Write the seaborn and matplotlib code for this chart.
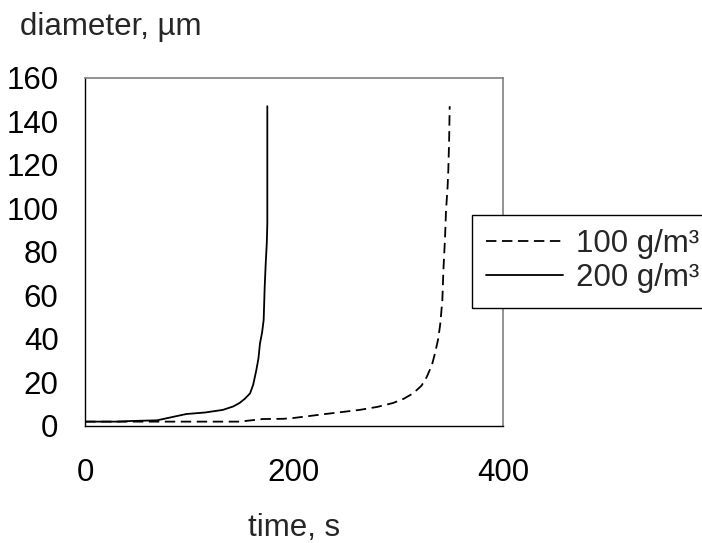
import pandas as pd
import matplotlib
matplotlib.use("Agg")
import matplotlib.pyplot as plt
import seaborn as sns

#data (time in s, diameter in um)
time_100 = [0, 40, 70, 100, 148, 170, 190, 200, 230, 263, 280, 295, 305, 314, 322, 327, 332, 335, 338, 340, 342, 343, 344.5, 345.5, 347, 347.7, 348.5, 349]
diam_100 = [2, 2, 2, 2, 2, 3.2, 3.3, 3.7, 5.5, 7.4, 8.8, 10.6, 12.5, 15, 18.5, 22.5, 28, 33.5, 40, 47, 58, 71.7, 86, 99, 110, 117.6, 132, 147]
time_200 = [0, 30, 45, 69, 97, 115, 132, 142, 148, 153, 158, 161, 164, 166, 167.5, 169.5, 171, 172, 173, 174, 174.5, 174.5]
diam_200 = [2, 2, 2.3, 2.6, 5.5, 6.2, 7.4, 9, 10.6, 12.5, 15, 19, 25.7, 31, 38, 43, 48.7, 64, 75, 84, 93, 147]
labels = ["100 g/m\u00b3", "200 g/m\u00b3"]

df_100 = pd.DataFrame({"time": time_100, "diameter": diam_100})
df_200 = pd.DataFrame({"time": time_200, "diameter": diam_200})

sns.set_style("white")
plt.rcParams["font.family"] = ["Liberation Sans", "DejaVu Sans"]
plt.rcParams["lines.scale_dashes"] = False

fs = 22.5
fig = plt.figure(figsize=(7.02, 5.43), dpi=100)
ax = fig.add_axes([0.121, 0.2155, 0.5955, 0.641])

#dashed 100 g/m3 curve, solid 200 g/m3 curve
sns.lineplot(data=df_100, x="time", y="diameter", ax=ax, color="black", linewidth=1.3,
             sort=False, estimator=None, label=labels[0])
ax.lines[-1].set_dashes((7.5, 4))
sns.lineplot(data=df_200, x="time", y="diameter", ax=ax, color="black", linewidth=1.3,
             sort=False, estimator=None, label=labels[1])

ax.set_xlim(0, 400)
ax.set_ylim(0, 160)
ax.set_xticks([0, 200, 400])
ax.set_yticks(range(0, 161, 20))
ax.tick_params(axis="both", direction="inout", length=13, width=1, color="black",
               labelsize=fs, labelcolor="black")
ax.tick_params(axis="x", pad=16.2)
ax.tick_params(axis="y", pad=12.5)
ax.set_xlabel("")
ax.set_ylabel("")

for side in ["left", "bottom"]:
    ax.spines[side].set_color("black")
    ax.spines[side].set_linewidth(1)
for side in ["top", "right"]:
    ax.spines[side].set_color("#808080")
    ax.spines[side].set_linewidth(1.2)

fig.text(20 / 702, 1 - 35 / 543, "diameter, \u00b5m", fontsize=fs, ha="left", va="baseline")
fig.text(294 / 702, 1 - 536 / 543, "time, s", fontsize=fs, ha="center", va="baseline")

leg = ax.legend(loc="upper left", bbox_to_anchor=(472 / 702, 1 - 215 / 543),
                bbox_transform=fig.transFigure, frameon=True, fancybox=False, shadow=False,
                fontsize=fs, handlelength=2.46, handletextpad=0.42, labelspacing=0.12,
                borderaxespad=0, borderpad=0.46)
leg.get_frame().set_edgecolor("black")
leg.get_frame().set_linewidth(1)
leg.get_frame().set_facecolor("white")
leg.get_frame().set_alpha(1)

plt.savefig("out.png", dpi=100)
